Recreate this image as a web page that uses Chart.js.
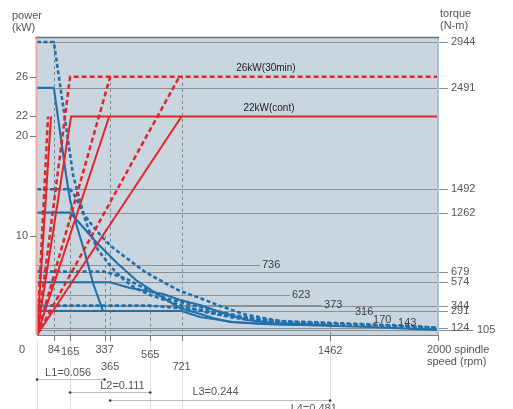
<!DOCTYPE html>
<html>
<head>
<meta charset="utf-8">
<script src="https://cdn.jsdelivr.net/npm/chart.js"></script>
<style>
  html, body { margin: 0; padding: 0; background: #fff; }
  #wrap { width: 513px; height: 409px; }
</style>
</head>
<body>
<div id="wrap"><canvas id="spindleChart"></canvas></div>
<script>
// axis ticks
const speedTicks = [84, 165, 337, 365, 565, 721, 1462, 2000];
const powerTicks = [10, 20, 22, 26];
const torqueTicks = [2944, 2491, 1492, 1262, 679, 574, 344, 291, 124, 105];

// torque, 30 min rating (dashed blue), one curve per gear
const t30Rpm1 = [0, 84, 180, 200, 224, 254, 304, 374, 439, 489, 564, 638, 728, 838, 988, 1162, 1362];
const t30Nm1  = [2944, 2944, 1632, 1485, 1307, 1110, 893, 715, 587, 518, 449, 399, 340, 281, 222, 182, 163];
const t30Rpm2 = [0, 165, 195, 229, 274, 324, 374, 439, 539, 629, 713, 813, 913, 1047, 1212, 1476, 1876, 2000];
const t30Nm2  = [1492, 1492, 1405, 1257, 1139, 1021, 922, 824, 676, 577, 488, 419, 340, 252, 192, 173, 143, 124];
const t30Rpm3 = [0, 337, 439, 504, 574, 638, 753, 888, 1062, 1262, 1462];
const t30Nm3  = [679, 679, 616, 547, 478, 419, 360, 291, 222, 182, 168];
const t30Rpm4 = [0, 565, 813, 963, 1112, 1312, 1611, 2000];
const t30Nm4  = [344, 344, 301, 242, 202, 173, 153, 124];

// torque, continuous rating (solid blue)
const tContRpm1 = [0, 84, 145, 165, 200, 239, 279, 329];
const tContNm1  = [2491, 2491, 1632, 1386, 1119, 863, 567, 291];
const tContRpm2 = [0, 165, 229, 299, 399, 499, 614, 713, 798, 878, 963, 1127, 1312];
const tContNm2  = [1262, 1262, 1119, 962, 764, 587, 439, 320, 271, 222, 182, 163, 153];
const tContRpm3 = [0, 365, 464, 629, 713, 813, 913, 1047, 1177, 1462];
const tContNm3  = [574, 574, 518, 459, 399, 350, 281, 202, 173, 150];
const tContRpm4 = [0, 721, 813, 978, 1147, 1312, 1661, 2000];
const tContNm4  = [291, 291, 232, 182, 163, 153, 133, 105];

// power, 30 min (dashed red) and continuous (solid red)
const p30Rpm1 = [0, 55];          const p30Kw1 = [0, 22];
const p30Rpm2 = [0, 165, 2000];   const p30Kw2 = [0, 26, 26];
const p30Rpm3 = [0, 365];         const p30Kw3 = [0, 26];
const p30Rpm4 = [0, 710];         const p30Kw4 = [0, 26];
const pContRpm1 = [0, 70];        const pContKw1 = [0, 22];
const pContRpm2 = [0, 170, 2000]; const pContKw2 = [0, 22, 22];
const pContRpm3 = [0, 360];       const pContKw3 = [0, 22];
const pContRpm4 = [0, 721];       const pContKw4 = [0, 22];

const ratingLabels = ['26kW(30min)', '22kW(cont)'];
const curveEndLabels = ['736', '623', '373', '316', '170', '143'];
const gearRanges = ['L1=0.056', 'L2=0.111', 'L3=0.244', 'L4=0.481'];
const gearFrom = [0, 165, 365, 721];
const gearTo = [337, 565, 1462, 2000];

const RED = '#e3242b';
const BLUE = '#2170ab';
const FONT = '"Liberation Sans", Arial, sans-serif';

function pts(xs, ys) {
  return xs.map((x, i) => ({ x: x, y: ys[i] }));
}
function powerLine(xs, ys, dashed) {
  return {
    data: pts(xs, ys), yAxisID: 'power', showLine: true, pointRadius: 0,
    borderColor: RED, borderWidth: dashed ? 2.5 : 2, borderDash: dashed ? [5, 3] : [], tension: 0
  };
}
function torqueLine(xs, ys, dashed) {
  return {
    data: pts(xs, ys), yAxisID: 'torque', showLine: true, pointRadius: 0,
    borderColor: BLUE, borderWidth: dashed ? 2.6 : 2.1, borderDash: dashed ? [4, 2.5] : [],
    borderJoinStyle: 'round', tension: 0
  };
}

const datasets = [
  powerLine(p30Rpm1, p30Kw1, true), powerLine(p30Rpm2, p30Kw2, true),
  powerLine(p30Rpm3, p30Kw3, true), powerLine(p30Rpm4, p30Kw4, true),
  powerLine(pContRpm1, pContKw1, false), powerLine(pContRpm2, pContKw2, false),
  powerLine(pContRpm3, pContKw3, false), powerLine(pContRpm4, pContKw4, false),
  torqueLine(t30Rpm1, t30Nm1, true), torqueLine(t30Rpm2, t30Nm2, true),
  torqueLine(t30Rpm3, t30Nm3, true), torqueLine(t30Rpm4, t30Nm4, true),
  torqueLine(tContRpm1, tContNm1, false), torqueLine(tContRpm2, tContNm2, false),
  torqueLine(tContRpm3, tContNm3, false), torqueLine(tContRpm4, tContNm4, false)
];

// dashed guides up from the speed axis: [rpm, axis, level]
const guides = [[84, 'torque', 2944], [165, 'torque', 1492], [337, 'torque', 1100],
  [365, 'power', 26], [565, 'torque', 344], [721, 'power', 26], [1462, 'torque', 143]];
// label spots: [left rpm, torque at middle, leader?]
const endSpots = [[1122, 745, true], [1272, 449, true], [1432, 350, true],
  [1586, 281, false], [1676, 202, false], [1801, 173, false]];

const decor = {
  id: 'decor',
  beforeDatasetsDraw(chart) {
    const { ctx, chartArea: a, scales } = chart;
    const X = v => scales.x.getPixelForValue(v);
    const T = v => scales.torque.getPixelForValue(v);
    const P = v => scales.power.getPixelForValue(v);
    ctx.save();
    ctx.fillStyle = '#c9d6df';
    ctx.fillRect(a.left, a.top, a.right - a.left, a.bottom - a.top);

    ctx.strokeStyle = '#8b9297';
    ctx.lineWidth = 1;
    torqueTicks.forEach(t => {
      const y = Math.round(T(t)) + 0.5;
      ctx.beginPath();
      ctx.moveTo(a.left, y);
      ctx.lineTo(a.right + (t === 105 ? 35 : 10), y);
      ctx.stroke();
    });
    // leaders to the curve end labels
    endSpots.forEach(s => {
      if (!s[2]) return;
      const y = Math.round(T(s[1])) + 0.5;
      ctx.beginPath();
      ctx.moveTo(a.left, y);
      ctx.lineTo(X(s[0]) - 2, y);
      ctx.stroke();
    });
    // light guides under the axis
    ctx.strokeStyle = '#e0e0e0';
    [0, 165, 565, 721, 1462].forEach(v => {
      const x = Math.round(X(v)) + 0.5;
      ctx.beginPath();
      ctx.moveTo(x, a.bottom + 6);
      ctx.lineTo(x, chart.height);
      ctx.stroke();
    });
    // dashed guides
    ctx.strokeStyle = '#7f868b';
    ctx.setLineDash([3, 3]);
    guides.forEach(g => {
      const x = Math.round(X(g[0])) + 0.5;
      const top = g[1] === 'power' ? P(g[2]) : T(g[2]);
      ctx.beginPath();
      ctx.moveTo(x, top);
      ctx.lineTo(x, a.bottom);
      ctx.stroke();
    });
    ctx.restore();
  },
  afterDatasetsDraw(chart) {
    const { ctx, chartArea: a, scales } = chart;
    const X = v => scales.x.getPixelForValue(v);
    const T = v => scales.torque.getPixelForValue(v);
    const P = v => scales.power.getPixelForValue(v);
    ctx.save();

    // frame
    ctx.lineWidth = 2;
    ctx.strokeStyle = '#f2a5a5';
    ctx.beginPath(); ctx.moveTo(a.left - 0.5, a.top); ctx.lineTo(a.left - 0.5, a.bottom); ctx.stroke();
    ctx.strokeStyle = '#a3c0dc';
    ctx.beginPath(); ctx.moveTo(a.right, a.top); ctx.lineTo(a.right, a.bottom); ctx.stroke();
    ctx.lineWidth = 1.5;
    ctx.strokeStyle = '#6e7377';
    ctx.beginPath(); ctx.moveTo(a.left - 1.5, a.top + 0.5); ctx.lineTo(a.right + 1, a.top + 0.5); ctx.stroke();
    ctx.lineWidth = 1;
    ctx.strokeStyle = '#7b8085';
    ctx.beginPath(); ctx.moveTo(a.left, a.bottom + 0.5); ctx.lineTo(a.right + 1, a.bottom + 0.5); ctx.stroke();

    // tick marks
    ctx.strokeStyle = '#777';
    speedTicks.forEach(v => {
      const x = Math.round(X(v)) + 0.5;
      ctx.beginPath(); ctx.moveTo(x, a.bottom); ctx.lineTo(x, a.bottom + 6); ctx.stroke();
    });
    powerTicks.forEach(p => {
      const y = Math.round(P(p)) + 0.5;
      ctx.beginPath(); ctx.moveTo(a.left - 7, y); ctx.lineTo(a.left - 1, y); ctx.stroke();
    });

    ctx.fillStyle = '#555';
    ctx.font = '11px ' + FONT;
    ctx.textBaseline = 'middle';

    ctx.textAlign = 'right';
    powerTicks.forEach(p => ctx.fillText(String(p), a.left - 9, P(p)));

    ctx.textAlign = 'left';
    torqueTicks.forEach(t => ctx.fillText(String(t), a.right + (t === 105 ? 39 : 13), T(t)));

    // speed axis labels, two rows
    const rowShift = { 84: 0, 165: 2, 337: 0, 365: 17, 565: 5, 721: 17, 1462: 1 };
    ctx.textAlign = 'center';
    ctx.fillText('0', a.left - 15, a.bottom + 15);
    speedTicks.forEach(v => {
      if (v === 2000) return;
      ctx.fillText(String(v), X(v), a.bottom + 15 + rowShift[v]);
    });
    ctx.textAlign = 'left';
    ctx.fillText('2000 spindle', X(2000) - 11, a.bottom + 15);
    ctx.fillText('speed (rpm)', X(2000) - 11, a.bottom + 27);

    // axis titles
    ctx.textBaseline = 'alphabetic';
    ctx.fillText('power', 12, 19);
    ctx.fillText('(kW)', 12, 31);
    ctx.fillText('torque', a.right + 2, 17);
    ctx.fillText('(N-m)', a.right + 2, 29);

    // curve end values
    ctx.textBaseline = 'middle';
    ctx.fillStyle = '#3d3d3d';
    curveEndLabels.forEach((s, i) => ctx.fillText(s, X(endSpots[i][0]), T(endSpots[i][1])));

    // rating labels
    ctx.font = '10px ' + FONT;
    ctx.textAlign = 'center';
    ctx.textBaseline = 'bottom';
    ctx.fillStyle = '#222';
    ctx.fillText(ratingLabels[0], X(1142), P(26) - 3);
    ctx.fillText(ratingLabels[1], X(1157), P(22) - 3);

    // gear ranges
    const textRow = [38, 51, 57, 74];
    const lineRow = [44, 57, 65, 82];
    const textAt = [40, 315, 775, 1265];
    ctx.font = '11px ' + FONT;
    ctx.textAlign = 'left';
    ctx.textBaseline = 'middle';
    gearRanges.forEach((s, i) => {
      const y = a.bottom + lineRow[i] + 0.5;
      ctx.strokeStyle = '#bdbdbd';
      ctx.beginPath(); ctx.moveTo(X(gearFrom[i]), y); ctx.lineTo(X(gearTo[i]), y); ctx.stroke();
      ctx.fillStyle = '#333';
      [gearFrom[i], gearTo[i]].forEach(v => {
        ctx.beginPath(); ctx.arc(X(v), y, 1.3, 0, Math.PI * 2); ctx.fill();
      });
      ctx.fillStyle = '#555';
      ctx.fillText(s, X(textAt[i]), a.bottom + textRow[i]);
    });
    ctx.restore();
  }
};

const chart = new Chart(document.getElementById('spindleChart').getContext('2d'), {
  type: 'scatter',
  data: { datasets: datasets },
  options: {
    responsive: true,
    maintainAspectRatio: false,
    devicePixelRatio: 1,
    animation: false,
    layout: { padding: { left: 37, right: 75, top: 37, bottom: 74 } },
    plugins: { legend: { display: false }, tooltip: { enabled: false } },
    scales: {
      x: { type: 'linear', min: 0, max: 2000, display: false },
      power: { type: 'linear', position: 'left', min: 0, max: 30, display: false },
      torque: { type: 'linear', position: 'right', min: 54, max: 2993, display: false }
    }
  },
  plugins: [decor]
});
</script>
</body>
</html>
